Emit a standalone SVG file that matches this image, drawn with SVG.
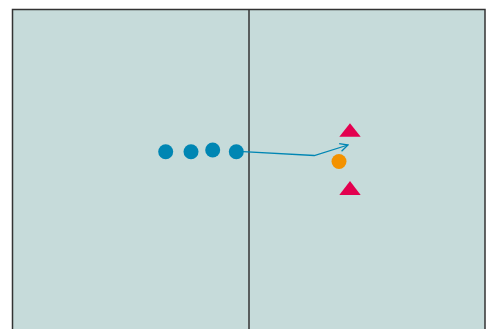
<svg xmlns="http://www.w3.org/2000/svg" width="492" height="329" viewBox="0 0 492 329">
<defs>
<style>
.field{fill:#c6dbda;stroke:#333;stroke-width:1.5}
.mid{stroke:#333;stroke-width:1.5}
.blue{fill:#0086b3}
.orange{fill:#f39200}
.red{fill:#e3004f}
.conn{fill:none;stroke:#0086b3;stroke-width:1.3}
</style>
<marker id="arr" viewBox="0 0 10 10" refX="9" refY="5" markerWidth="10" markerHeight="10" markerUnits="userSpaceOnUse" orient="auto">
<path d="M1,1 L9,5 L1,9" fill="none" stroke="#0086b3" stroke-width="1.3"/>
</marker>
</defs>
<rect class="field" x="12.5" y="9.5" width="472.5" height="330"/>
<line class="mid" x1="249" y1="9.5" x2="249" y2="329"/>
<g id="connectors">
<path class="conn" d="M243,151.7 L314.3,155.5 L348,145" marker-end="url(#arr)"/>
</g>
<g id="p1"><circle class="blue" cx="165.7" cy="151.7" r="7.5"/></g>
<g id="p2"><circle class="blue" cx="191" cy="151.7" r="7.5"/></g>
<g id="p3"><circle class="blue" cx="212.7" cy="150" r="7.5"/></g>
<g id="p4"><circle class="blue" cx="236.3" cy="151.7" r="7.5"/></g>
<g id="ball"><circle class="orange" cx="339" cy="161.5" r="7.5"/></g>
<g id="t1"><polygon class="red" points="350,123.3 360.7,136.7 339.3,136.7"/></g>
<g id="t2"><polygon class="red" points="350,181 360.7,195 339.3,195"/></g>
</svg>
